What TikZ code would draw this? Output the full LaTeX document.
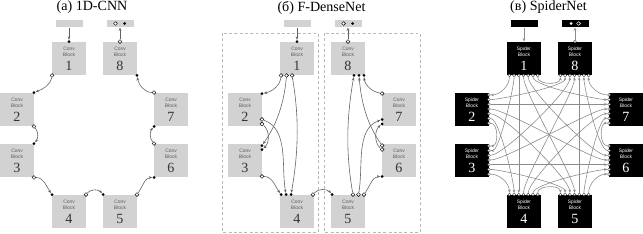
\documentclass[tikz,border=0pt]{standalone}
\usepackage{fontspec}
\setmainfont{Liberation Serif}
\newfontfamily\blkfont{Liberation Sans}
\usetikzlibrary{arrows.meta, positioning, calc}
\definecolor{blkc}{HTML}{D2D2D2}
\definecolor{linec}{HTML}{626262}
\definecolor{spidc}{HTML}{8C8C8C}
\definecolor{framec}{HTML}{B8B8B8}
\definecolor{txtc}{HTML}{5A5A5A}
\definecolor{numc}{HTML}{333333}
\tikzset{
  blk/.style={fill=blkc, minimum size=10.05mm, inner sep=0pt, align=center, text=txtc,
              font=\blkfont\fontsize{4.2}{5.6}\selectfont},
  sblk/.style={blk, fill=black, text=white},
  bar/.style={fill=blkc, minimum width=8.1mm, minimum height=2.3mm, inner sep=0pt},
  sbar/.style={bar, fill=black},
  opn/.style={circle, draw=black, fill=white, line width=0.4pt, inner sep=0pt, minimum size=1.15mm},
  dot/.style={circle, fill=black, inner sep=0pt, minimum size=0.9mm},
  wdot/.style={dot, fill=white},
  wopn/.style={opn, draw=white, fill=black},
  sport/.style={circle, draw=black!75, fill=white, line width=0.3pt, inner sep=0pt, minimum size=0.85mm},
  con/.style={-{Stealth[length=1mm, width=0.8mm]}, draw=linec, line width=0.5pt},
  scon/.style={con, draw=spidc, line width=0.5pt},
  frm/.style={draw=framec, line width=0.5pt, dash pattern=on 2.5pt off 2pt},
  ttl/.style={font=\fontsize{12}{14}\selectfont},
}
\newcommand{\blktxt}[3]{#1\\Block\\[2.5pt]{\rmfamily\fontsize{12}{12}\selectfont\color{#3}#2}}

\begin{document}
\begin{tikzpicture}[x=0.3mm, y=-0.3mm, looseness=0.9]
\useasboundingbox (0,0) rectangle (643,234);

% ---------------- (a) 1D-CNN ----------------
\node[ttl] (atl) at (92,7.5) {(a) 1D-CNN};
\foreach \n/\x/\y in {1/69/58.5, 2/17/109.5, 3/17/160.5, 4/69/211.5,
                      5/120/211.5, 6/171/160.5, 7/171/109.5, 8/120/58.5}
  \node[blk] (a\n) at (\x,\y) {\blktxt{Conv}{\n}{numc}};
\node[bar] (ain) at (69,23.5) {};
\node[bar] (aout) at (120,23.5) {};
\node[opn] (aouto) at ($(aout)+(-4.5,0)$) {};
\node[dot] (aoutd) at ($(aout)+(4.5,0)$) {};

\node[dot] (a1i) at (a1.north) {};
\node[opn] (a1o) at (a1.south west) {};
\node[dot] (a2i) at (a2.north east) {};
\node[opn] (a2o) at (a2.south east) {};
\node[dot] (a3i) at (a3.north east) {};
\node[opn] (a3o) at (a3.south east) {};
\node[dot] (a4i) at (a4.north west) {};
\node[opn] (a4o) at (a4.north east) {};
\node[dot] (a5i) at (a5.north west) {};
\node[opn] (a5o) at (a5.north east) {};
\node[dot] (a6i) at (a6.south west) {};
\node[opn] (a6o) at (a6.north west) {};
\node[dot] (a7i) at (a7.south west) {};
\node[opn] (a7o) at (a7.north west) {};
\node[dot] (a8i) at (a8.south east) {};
\node[opn] (a8o) at (a8.north) {};

\draw[con] (ain) -- (a1i);
\draw[con] (a8o) -- (aout);
\draw[con] (a1o) to[out=-100, in=20] (a2i);
\draw[con] (a2o) to[out=-50, in=50] (a3i);
\draw[con] (a3o) to[out=0, in=125] (a4i);
\draw[con] (a4o) to[out=50, in=130] (a5i);
\draw[con] (a5o) to[out=55, in=180] (a6i);
\draw[con] (a6o) to[out=130, in=-130] (a7i);
\draw[con] (a7o) to[out=180, in=-80] (a8i);

% ---------------- (b) F-DenseNet ----------------
\begin{scope}[shift={(228,0)}]
\node[ttl] (btl) at (93.5,7.5) {(б) F-DenseNet};
\draw[frm] (-6,33) rectangle (90,232);
\draw[frm] (96,33) rectangle (192,232);
\foreach \n/\x/\y in {1/69/58.5, 2/17/109.5, 3/17/160.5, 4/69/211.5,
                      5/120/211.5, 6/171/160.5, 7/171/109.5, 8/120/58.5}
  \node[blk] (b\n) at (\x,\y) {\blktxt{Conv}{\n}{numc}};
\node[bar] (bin) at (69,23.5) {};
\node[bar] (bout) at (120,23.5) {};
\node[opn] (bouto) at ($(bout)+(-4.5,0)$) {};
\node[dot] (boutd) at ($(bout)+(4.5,0)$) {};

% the left half
\node[dot] (b1i) at (b1.north) {};
\node[opn] (b1o1) at ($(b1.south west)+(1,0)$) {};
\node[opn] (b1o2) at ($(b1.south west)+(6.5,0)$) {};
\node[opn] (b1o3) at ($(b1.south west)+(12,0)$) {};
\node[dot] (b2i) at ($(b2.north east)+(0,1)$) {};
\node[opn] (b2oa) at ($(b2.south east)+(0,-7)$) {};
\node[opn] (b2ob) at ($(b2.south east)+(0,-2.5)$) {};
\node[dot] (b3ia) at ($(b3.north east)+(0,2)$) {};
\node[dot] (b3ib) at ($(b3.north east)+(0,6)$) {};
\node[opn] (b3o) at ($(b3.south east)+(0,-1)$) {};
\node[dot] (b4i1) at ($(b4.north west)+(1,0)$) {};
\node[dot] (b4i2) at ($(b4.north west)+(6,0)$) {};
\node[dot] (b4i3) at ($(b4.north west)+(11,0)$) {};
\node[opn] (b4o) at ($(b4.north east)+(-1,0)$) {};
% the right half
\node[dot] (b5i) at ($(b5.north west)+(1,0)$) {};
\node[opn] (b5o1) at ($(b5.north east)+(-1,0)$) {};
\node[opn] (b5o2) at ($(b5.north east)+(-6.5,0)$) {};
\node[opn] (b5o3) at ($(b5.north east)+(-12,0)$) {};
\node[dot] (b6i) at ($(b6.south west)+(0,-1)$) {};
\node[opn] (b6oa) at ($(b6.north west)+(0,2)$) {};
\node[opn] (b6ob) at ($(b6.north west)+(0,6)$) {};
\node[dot] (b7ia) at ($(b7.south west)+(0,-7)$) {};
\node[dot] (b7ib) at ($(b7.south west)+(0,-2.5)$) {};
\node[opn] (b7o) at ($(b7.north west)+(0,1)$) {};
\node[dot] (b8i1) at ($(b8.south east)+(-1,0)$) {};
\node[dot] (b8i2) at ($(b8.south east)+(-6,0)$) {};
\node[dot] (b8i3) at ($(b8.south east)+(-11,0)$) {};
\node[opn] (b8o) at (b8.north) {};

\draw[con] (bin) -- (b1i);
\draw[con] (b8o) -- (bout);
\draw[con] (b1o1) to[out=-95, in=10] (b2i);
\draw[con] (b1o2) to[out=-95, in=55] (b3ia);
\draw[con] (b1o3) to[out=-80, in=80] (b4i3);
\draw[con] (b2oa) to[out=-20, in=100] (b4i2);
\draw[con] (b2ob) to[out=-40, in=40] (b3ib);
\draw[con] (b3o) to[out=0, in=125] (b4i1);
\draw[con] (b4o) to[out=50, in=130] (b5i);
\draw[con] (b5o1) to[out=55, in=180] (b6i);
\draw[con] (b5o2) to[out=80, in=-160] (b7ia);
\draw[con] (b5o3) to[out=100, in=-100] (b8i3);
\draw[con] (b6ob) to[out=140, in=-140] (b7ib);
\draw[con] (b6oa) to[out=125, in=-85] (b8i2);
\draw[con] (b7o) to[out=170, in=-85] (b8i1);
\end{scope}

% ---------------- (c) SpiderNet ----------------
\begin{scope}[shift={(455,0)}]
\node[ttl] (ctl) at (93.5,7.5) {(в) SpiderNet};
\foreach \n/\x/\y in {1/69/58.5, 2/17/109.5, 3/17/160.5, 4/69/211.5,
                      5/120/211.5, 6/171/160.5, 7/171/109.5, 8/120/58.5}
  \node[sblk] (c\n) at (\x,\y) {\blktxt{Spider}{\n}{white}};
\node[sbar] (cin) at (69,23.5) {};
\node[sbar] (cout) at (120,23.5) {};
\node[wdot] (coutd) at ($(cout)+(-4,0)$) {};
\node[wopn] (couto) at ($(cout)+(3.5,0)$) {};
\node[sport] (c8o) at (c8.north) {};

% one port for each of the other seven blocks, in the order they lie round
\foreach \n [count=\k] in {2,3,4,5,6,7,8}
  \node[sport] (c1p\n) at ($(c1.south west)+(\k*4.7-2.3,0)$) {};
\foreach \n [count=\k] in {1,8,7,6,5,4,3}
  \node[sport] (c2p\n) at ($(c2.north east)+(0,\k*4.7-2.3)$) {};
\foreach \n [count=\k] in {2,1,8,7,6,5,4}
  \node[sport] (c3p\n) at ($(c3.north east)+(0,\k*4.7-2.3)$) {};
\foreach \n [count=\k] in {3,2,1,8,7,6,5}
  \node[sport] (c4p\n) at ($(c4.north west)+(\k*4.7-2.3,0)$) {};
\foreach \n [count=\k] in {4,3,2,1,8,7,6}
  \node[sport] (c5p\n) at ($(c5.north west)+(\k*4.7-2.3,0)$) {};
\foreach \n [count=\k] in {7,8,1,2,3,4,5}
  \node[sport] (c6p\n) at ($(c6.north west)+(0,\k*4.7-2.3)$) {};
\foreach \n [count=\k] in {8,1,2,3,4,5,6}
  \node[sport] (c7p\n) at ($(c7.north west)+(0,\k*4.7-2.3)$) {};
\foreach \n [count=\k] in {1,2,3,4,5,6,7}
  \node[sport] (c8p\n) at ($(c8.south west)+(\k*4.7-2.3,0)$) {};

\draw[scon] (cin) -- (c1);
\draw[scon] (c8o) -- (cout);
% neighbours bend round, the rest run nearly straight
\foreach \i in {1,...,7} {
  \pgfmathtruncatemacro\s{\i+1}
  \foreach \j in {\s,...,8} {
    \pgfmathsetmacro\ao{{-90,0,0,90,90,180,180,-90}[\i-1]}
    \pgfmathsetmacro\ai{{-90,0,0,90,90,180,180,-90}[\j-1]}
    \pgfmathsetmacro\lo{(\j-\i==1 || (\i==1 && \j==8)) ? 0.9 : 0.3}
    \draw[scon] (c\i p\j) to[out=\ao, in=\ai, looseness=\lo] (c\j p\i);
  }
}
\end{scope}
\end{tikzpicture}
\end{document}
